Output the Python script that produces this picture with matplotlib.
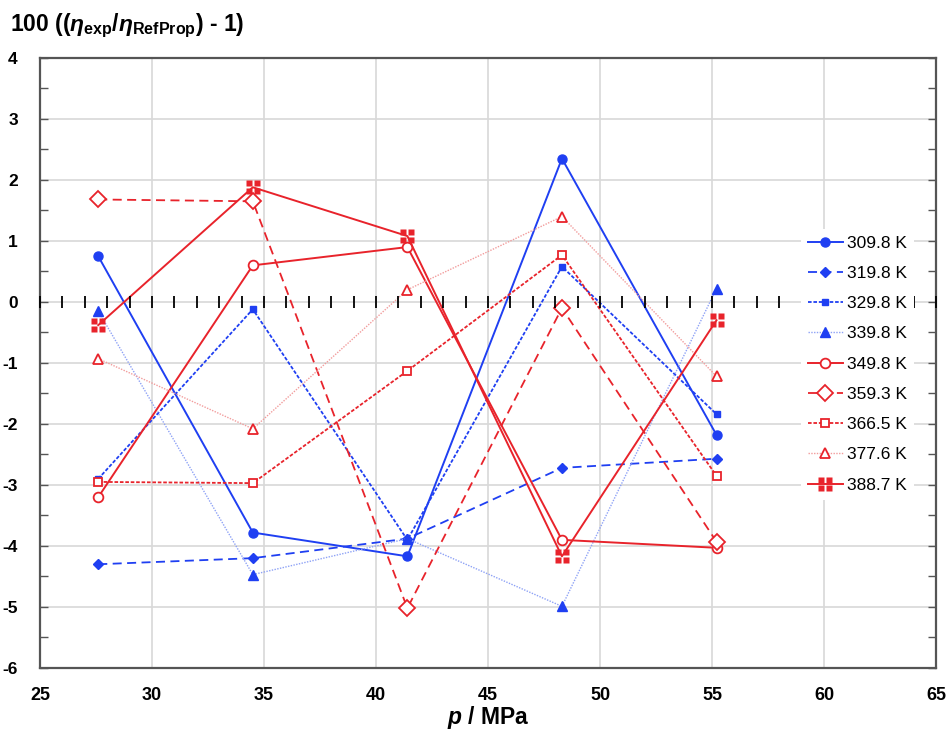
import matplotlib
matplotlib.use('Agg')
import matplotlib.pyplot as plt
from matplotlib.path import Path
from matplotlib.ticker import MultipleLocator

plt.rcParams['font.family'] = ['Liberation Sans', 'DejaVu Sans']
plt.rcParams['mathtext.fontset'] = 'custom'
plt.rcParams['mathtext.rm'] = 'Liberation Sans:bold'
plt.rcParams['mathtext.it'] = 'Liberation Sans:italic:bold'
plt.rcParams['mathtext.bf'] = 'Liberation Sans:bold'
plt.rcParams['axes.unicode_minus'] = False

# pressures, MPa
pressure = [27.6, 34.5, 41.4, 48.3, 55.2]

# deviations in % for each isotherm
t309_8 = [0.75, -3.78, -4.17, 2.35, -2.18]
t319_8 = [-4.30, -4.20, -3.88, -2.72, -2.57]
t329_8 = [-2.90, -0.12, -3.90, 0.58, -1.84]
t339_8 = [-0.15, -4.47, -3.88, -4.99, 0.22]
t349_8 = [-3.20, 0.60, 0.90, -3.90, -4.03]
t359_3 = [1.68, 1.65, -5.02, -0.10, -3.93]
t366_5 = [-2.95, -2.97, -1.13, 0.77, -2.85]
t377_6 = [-0.93, -2.08, 0.20, 1.40, -1.22]
t388_7 = [-0.38, 1.88, 1.08, -4.17, -0.30]

labels = ['309.8 K', '319.8 K', '329.8 K', '339.8 K', '349.8 K',
          '359.3 K', '366.5 K', '377.6 K', '388.7 K']

# square split in four (the "grid" marker of the last isotherm)
g = 0.13
sq = [(-1, -1, -g, -g), (g, -1, 1, -g), (-1, g, -g, 1), (g, g, 1, 1)]
verts, codes = [], []
for x0, y0, x1, y1 in sq:
    verts += [(x0, y0), (x1, y0), (x1, y1), (x0, y1), (x0, y0)]
    codes += [Path.MOVETO, Path.LINETO, Path.LINETO, Path.LINETO, Path.CLOSEPOLY]
grid_marker = Path(verts, codes)

blue = '#1f3ff2'
blue_l = '#8ea2f6'
red = '#e8232b'
red_l = '#f29c9c'

fig = plt.figure(figsize=(9.5, 7.43), dpi=100)
rect = [0.0421, 0.101, 0.9432, 0.821]
ax = fig.add_axes(rect)

ax.plot(pressure, t309_8, color=blue, lw=1.4, ls='-', marker='o', ms=6.5,
        mfc=blue, mec=blue, label=labels[0], zorder=3)
ax.plot(pressure, t319_8, color=blue, lw=1.3, ls=(0, (5, 3)), marker='D', ms=5,
        mfc=blue, mec=blue, label=labels[1], zorder=3)
ax.plot(pressure, t329_8, color=blue, lw=1.3, ls=(0, (2, 1)), marker='s', ms=5,
        mfc=blue, mec=blue, label=labels[2], zorder=3)
ax.plot(pressure, t339_8, color=blue_l, lw=1.0, ls=(0, (1, 1)), marker='^', ms=7,
        mfc=blue, mec=blue, label=labels[3], zorder=3)
ax.plot(pressure, t349_8, color=red, lw=1.4, ls='-', marker='o', ms=7,
        mfc='white', mec=red, mew=1.3, label=labels[4], zorder=3)
ax.plot(pressure, t359_3, color=red, lw=1.3, ls=(0, (5, 3)), marker='D', ms=8,
        mfc='white', mec=red, mew=1.3, label=labels[5], zorder=3)
ax.plot(pressure, t366_5, color=red, lw=1.3, ls=(0, (2, 1)), marker='s', ms=5.5,
        mfc='white', mec=red, mew=1.3, label=labels[6], zorder=3)
ax.plot(pressure, t377_6, color=red_l, lw=1.0, ls=(0, (1, 1)), marker='^', ms=7.5,
        mfc='white', mec=red, mew=1.3, label=labels[7], zorder=3)
ax.plot(pressure, t388_7, color=red, lw=1.4, ls='-', marker=grid_marker, ms=10,
        mfc=red, mec='none', label=labels[8], zorder=3)

ax.set_xlim(25, 65)
ax.set_ylim(-6, 4)
ax.set_xticks(range(25, 66, 5))
ax.set_yticks(range(-6, 5))
ax.yaxis.set_minor_locator(MultipleLocator(0.5))
ax.grid(True, color='#d8d8d8', lw=1.2)
ax.set_axisbelow(True)
ax.tick_params(axis='x', length=0, labelsize=13, pad=14)
ax.tick_params(axis='y', which='both', direction='in', left=True, right=True,
               length=6, width=1.0, color='#555555', labelsize=12.5, pad=16)
for t in ax.get_xticklabels() + ax.get_yticklabels():
    t.set_fontweight('bold')
for s in ax.spines.values():
    s.set_color('#555555')
    s.set_linewidth(1.6)

# zero line with ticks every 1 MPa, on an overlay axes
az = fig.add_axes(rect, frameon=False)
az.set_xlim(25, 65)
az.set_ylim(-6, 4)
az.patch.set_visible(False)
for name in ['top', 'left', 'right']:
    az.spines[name].set_visible(False)
az.spines['bottom'].set_visible(True)
az.spines['bottom'].set_position(('data', 0))
az.spines['bottom'].set_color('black')
az.spines['bottom'].set_linewidth(1.8)
az.xaxis.set_major_locator(MultipleLocator(1))
az.tick_params(axis='x', direction='inout', length=9, width=1.3, color='black',
               labelbottom=False)
az.set_yticks([])

ax.set_xlabel(r'$p$ / MPa', fontsize=16.5, fontweight='bold')
ax.xaxis.set_label_coords(0.5, -0.082)
ax.xaxis.label.set_va('center')
fig.text(0.01, 0.965, r'100 (($\eta_{\mathrm{exp}}$/$\eta_{\mathrm{RefProp}}$) - 1)',
         fontsize=16.5, fontweight='bold', ha='left', va='center')

leg = az.legend(*ax.get_legend_handles_labels(), loc='center left',
                bbox_to_anchor=(0.843, 0.51),
                bbox_transform=fig.transFigure, frameon=True, fancybox=False,
                edgecolor='none', facecolor='white', framealpha=1,
                fontsize=12.5, handlelength=2.0, handletextpad=0.25,
                labelspacing=0.87, borderpad=0.4, borderaxespad=0)

fig.savefig('out.png', dpi=100)
